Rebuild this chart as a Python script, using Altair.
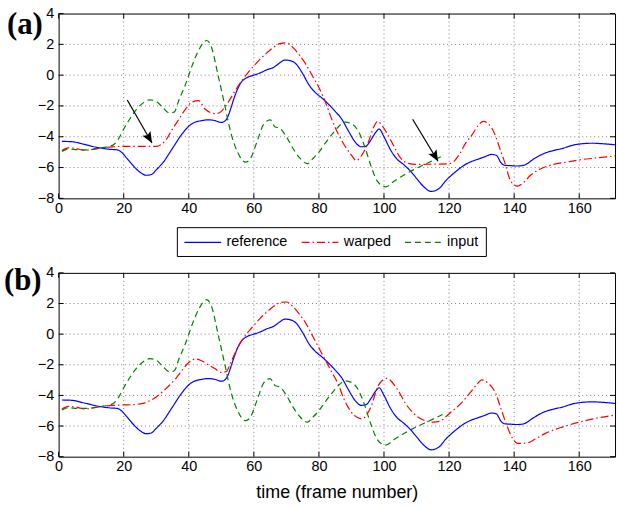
import altair as alt
import pandas as pd

# ---------------- data ----------------
series_names = ["reference", "warped", "input"]
series_colors = ["#0000ff", "#ff0000", "#008000"]

ref_x = [1, 4, 8, 12, 16, 18, 19, 21, 23, 25, 27, 28.5, 30, 32, 35, 38, 41, 44, 46, 48, 50, 51, 52, 53,
         54, 55, 56, 58, 60, 62, 64, 66, 68, 69.5, 71, 73, 75, 77, 79, 81, 83, 85, 87, 89, 91, 93, 94.5,
         96, 97.5, 98.5, 100, 102, 104, 106, 108, 110, 112, 114.5, 117, 119, 121, 123, 125, 127, 129,
         131, 133, 134.5, 136, 137, 139, 141, 143, 146, 149, 152, 155, 158, 161, 164, 167, 171]
ref_y = [-4.3, -4.32, -4.5, -4.7, -4.82, -4.85, -4.95, -5.4, -5.9, -6.3, -6.5, -6.45, -6.15, -5.7, -4.75,
         -3.8, -3.15, -2.95, -2.9, -2.95, -3.07, -3.0, -2.7, -2.1, -1.45, -0.9, -0.5, -0.15, 0.0, 0.15,
         0.35, 0.5, 0.8, 0.98, 0.95, 0.72, 0.1, -0.65, -1.15, -1.5, -1.9, -2.35, -2.85, -3.6, -4.3,
         -4.65, -4.6, -4.2, -3.7, -3.5, -4.0, -4.85, -5.45, -5.8, -6.2, -6.7, -7.2, -7.55, -7.35, -6.85,
         -6.45, -6.1, -5.8, -5.6, -5.45, -5.3, -5.15, -5.2, -5.7, -5.85, -5.88, -5.9, -5.85, -5.45,
         -5.1, -4.9, -4.75, -4.55, -4.45, -4.42, -4.45, -4.52]

inp_x = [1, 3, 6, 9, 12, 15, 17, 18.5, 20, 22, 24, 26, 28, 30, 32, 34, 35.5, 37, 39, 41, 43, 45.5, 47,
         49, 51, 53, 55, 57.5, 59, 61, 63, 65, 66.5, 68, 70, 72, 74, 76.5, 78, 80, 82, 84, 86, 88, 90,
         92, 94, 96, 98, 100.5, 103, 106, 109, 112, 115, 118]
inp_y = [-4.95, -4.8, -4.85, -4.85, -4.75, -4.65, -4.5, -4.1, -3.5, -2.8, -2.2, -1.8, -1.6, -1.7, -2.1,
         -2.45, -2.4, -1.6, -0.6, 0.6, 1.6, 2.25, 1.8, 0.0, -1.9, -3.8, -5.0, -5.65, -5.4, -4.3, -3.2,
         -2.9, -3.35, -3.45, -4.0, -4.75, -5.35, -5.75, -5.45, -5.0, -4.4, -3.85, -3.35, -3.05, -3.15,
         -3.6, -4.6, -5.9, -6.9, -7.25, -6.9, -6.5, -6.15, -5.85, -5.55, -5.25]

warp_a_x = [1, 3, 5, 8, 11, 14, 17, 20, 25, 30, 31.5, 33, 35, 37, 39, 41, 43, 45, 47, 48.5, 50, 52, 54,
            56, 58, 60, 62, 64, 66, 68, 70, 72, 74, 76, 78, 80, 82, 84, 86, 88, 90, 91.5, 93, 95, 97,
            98, 99.5, 101, 103, 105, 107, 110, 115, 120, 121.5, 123, 125, 127, 129, 130.5, 132, 134,
            135.5, 137, 139, 141, 143, 145, 148, 152, 156, 160, 165, 171]
warp_a_y = [-4.9, -4.72, -4.75, -4.88, -4.8, -4.7, -4.65, -4.62, -4.62, -4.62, -4.5, -4.2, -3.5, -2.85,
            -2.2, -1.75, -1.65, -2.2, -2.45, -2.5, -2.35, -1.8, -1.1, -0.45, 0.1, 0.6, 1.05, 1.45, 1.8,
            2.05, 2.1, 1.8, 1.3, 0.7, -0.05, -0.8, -1.75, -2.9, -3.85, -4.6, -5.2, -5.55, -5.25, -4.45,
            -3.3, -3.0, -3.3, -3.8, -4.6, -5.35, -5.7, -5.8, -5.78, -5.75, -5.6, -5.2, -4.45, -3.9,
            -3.25, -3.0, -3.15, -3.8, -4.7, -5.6, -6.9, -7.2, -6.95, -6.5, -6.1, -5.8, -5.65, -5.5,
            -5.38, -5.25]

warp_b_x = [1, 3, 5, 8, 11, 14, 17, 20, 23, 26, 28, 30, 32, 34, 36, 38, 40, 42, 44, 46, 48, 50, 51.5,
            53, 55, 57, 59.5, 62, 64, 66, 68, 70, 72, 74, 76, 78, 80, 82, 84, 86, 87.6, 90.7, 93.2,
            95.8, 98.3, 100.8, 103.9, 106.9, 111, 115.1, 117, 120.2, 123.2, 126.3, 128.8, 130, 132,
            134.4, 136, 137.9, 139.5, 141, 144, 146.5, 149.6, 155, 160.3, 165, 171]
warp_b_y = [-4.9, -4.72, -4.75, -4.88, -4.8, -4.7, -4.65, -4.62, -4.6, -4.52, -4.35, -4.1, -3.75,
            -3.35, -2.9, -2.35, -1.85, -1.62, -1.75, -2.0, -2.25, -2.5, -2.45, -1.8, -0.9, -0.2, 0.45,
            1.05, 1.45, 1.8, 2.05, 2.1, 1.8, 1.3, 0.7, -0.1, -0.9, -1.7, -2.5, -3.3, -4.19, -5.27,
            -5.53, -4.84, -3.33, -2.89, -3.54, -4.62, -5.49, -5.75, -5.7, -5.16, -4.62, -3.87, -3.22,
            -2.98, -3.2, -3.9, -4.9, -6.05, -6.8, -7.13, -7.1, -6.85, -6.48, -6.05, -5.73, -5.5, -5.28]

x_ticks = [0, 20, 40, 60, 80, 100, 120, 140, 160]
y_ticks = [-8, -6, -4, -2, 0, 2, 4]

arrow_x = [21.1, 108.8]
arrow_y = [-1.61, -2.86]
arrow_x2 = [28.7, 116.6]
arrow_y2 = [-4.41, -5.59]

panel_labels = ["(a)", "(b)"]
x_title = "time (frame number)"

# ---------------- chart ----------------
W = 560
FONT = "Liberation Sans"
xs = alt.Scale(domain=[0, 171], nice=False, zero=False)
ys = alt.Scale(domain=[-8, 4], nice=False, zero=False)
dashes = [[1, 0], [8, 3, 1.5, 3], [6, 4]]

LEG = alt.Legend(title=None, orient="none", legendX=119, legendY=215, direction="horizontal",
                 strokeColor="black", fillColor="white", padding=7,
                 symbolType="M-1,0L4,0", symbolSize=219, symbolStrokeWidth=1.2,
                 labelFont=FONT, labelFontSize=14.5, labelColor="black", labelOffset=27,
                 columnPadding=11, labelLimit=0)


def series_df(wx, wy):
    rows = []
    for name, xv, yv in [("reference", ref_x, ref_y), ("warped", wx, wy), ("input", inp_x, inp_y)]:
        for i, (a, b) in enumerate(zip(xv, yv)):
            rows.append({"frame": a, "value": b, "series": name, "idx": i})
    return pd.DataFrame(rows)


def panel(wx, wy, label, label_x, label_y, with_legend, with_title, with_arrows, h):
    axis_kw = dict(values=x_ticks, grid=False, ticks=False, domain=False, labelPadding=3,
                   labelFlush=False, labelFont=FONT, labelFontSize=14.5, labelColor="black", format="d")
    if with_title:
        axis_kw.update(title=x_title, titleFont=FONT, titleFontSize=18, titleFontWeight="normal",
                       titleColor="black", titlePadding=11)
    else:
        axis_kw.update(title="")
    xaxis = alt.Axis(**axis_kw)
    yaxis = alt.Axis(values=y_ticks, grid=False, ticks=False, domain=False, labelPadding=5,
                     labelFont=FONT, labelFontSize=14.5, labelColor="black", title="", format="d")

    def X(field="frame"):
        return alt.X(f"{field}:Q", scale=xs, axis=xaxis)

    def Y(field="value"):
        return alt.Y(f"{field}:Q", scale=ys, axis=yaxis)

    leg = LEG if with_legend else None

    df = series_df(wx, wy)
    lines = alt.Chart(df).mark_line(strokeWidth=1.2, interpolate="monotone").encode(
        x=X(), y=Y(),
        color=alt.Color("series:N", scale=alt.Scale(domain=series_names, range=series_colors), legend=leg),
        strokeDash=alt.StrokeDash("series:N", scale=alt.Scale(domain=series_names, range=dashes), legend=leg),
        order="idx:Q",
    )

    gx = pd.DataFrame({"frame": [v for v in x_ticks if v > 0]})
    gy = pd.DataFrame({"value": [v for v in y_ticks if -8 < v < 4]})
    grid_x = alt.Chart(gx).mark_rule(color="#808080", strokeDash=[1, 3], strokeWidth=1).encode(x=X())
    grid_y = alt.Chart(gy).mark_rule(color="#808080", strokeDash=[1, 3], strokeWidth=1).encode(y=Y())

    tx = pd.DataFrame({"frame": x_ticks})
    ty = pd.DataFrame({"value": y_ticks})
    tick_b = alt.Chart(tx).mark_rule(color="black").encode(x=X(), y=alt.value(h), y2=alt.value(h - 5))
    tick_t = alt.Chart(tx).mark_rule(color="black").encode(x=X(), y=alt.value(0), y2=alt.value(5))
    tick_l = alt.Chart(ty).mark_rule(color="black").encode(y=Y(), x=alt.value(0), x2=alt.value(5))
    tick_r = alt.Chart(ty).mark_rule(color="black").encode(y=Y(), x=alt.value(W), x2=alt.value(W - 5))

    lab = alt.Chart(pd.DataFrame({"label": [label]})).mark_text(
        font="Liberation Serif", fontWeight="bold", fontSize=31, align="left", baseline="middle",
        color="black").encode(x=alt.value(label_x), y=alt.value(label_y), text="label:N")

    layers = [grid_x, grid_y, lines, tick_b, tick_t, tick_l, tick_r]
    if with_arrows:
        adf = pd.DataFrame({"frame": arrow_x, "value": arrow_y, "frame2": arrow_x2, "value2": arrow_y2})
        shaft = alt.Chart(adf).mark_rule(color="black", strokeWidth=1.2).encode(
            x=X(), y=Y(), x2="frame2:Q", y2="value2:Q")
        hdf = pd.DataFrame({"frame": arrow_x2, "value": arrow_y2})
        head = alt.Chart(hdf).mark_point(
            shape="M0,0 L-0.42,1 L0,0.8 L0.42,1 Z", filled=True, size=500, angle=150,
            color="black", opacity=1, strokeWidth=0).encode(x=X(), y=Y())
        layers += [shaft, head]
    layers.append(lab)
    return alt.layer(*layers).properties(width=W, height=h)


pa = panel(warp_a_x, warp_a_y, panel_labels[0], -52, 12, True, False, True, 186)
pb = panel(warp_b_x, warp_b_y, panel_labels[1], -55, 8.5, False, True, False, 185)

chart = alt.vconcat(pa, pb, spacing=49).properties(
    padding={"left": 3, "top": 3, "right": 0, "bottom": 2},
    background="white",
).configure_view(stroke="black", strokeWidth=1)

chart.save("out.html", embed_options={"renderer": "svg", "actions": False})
